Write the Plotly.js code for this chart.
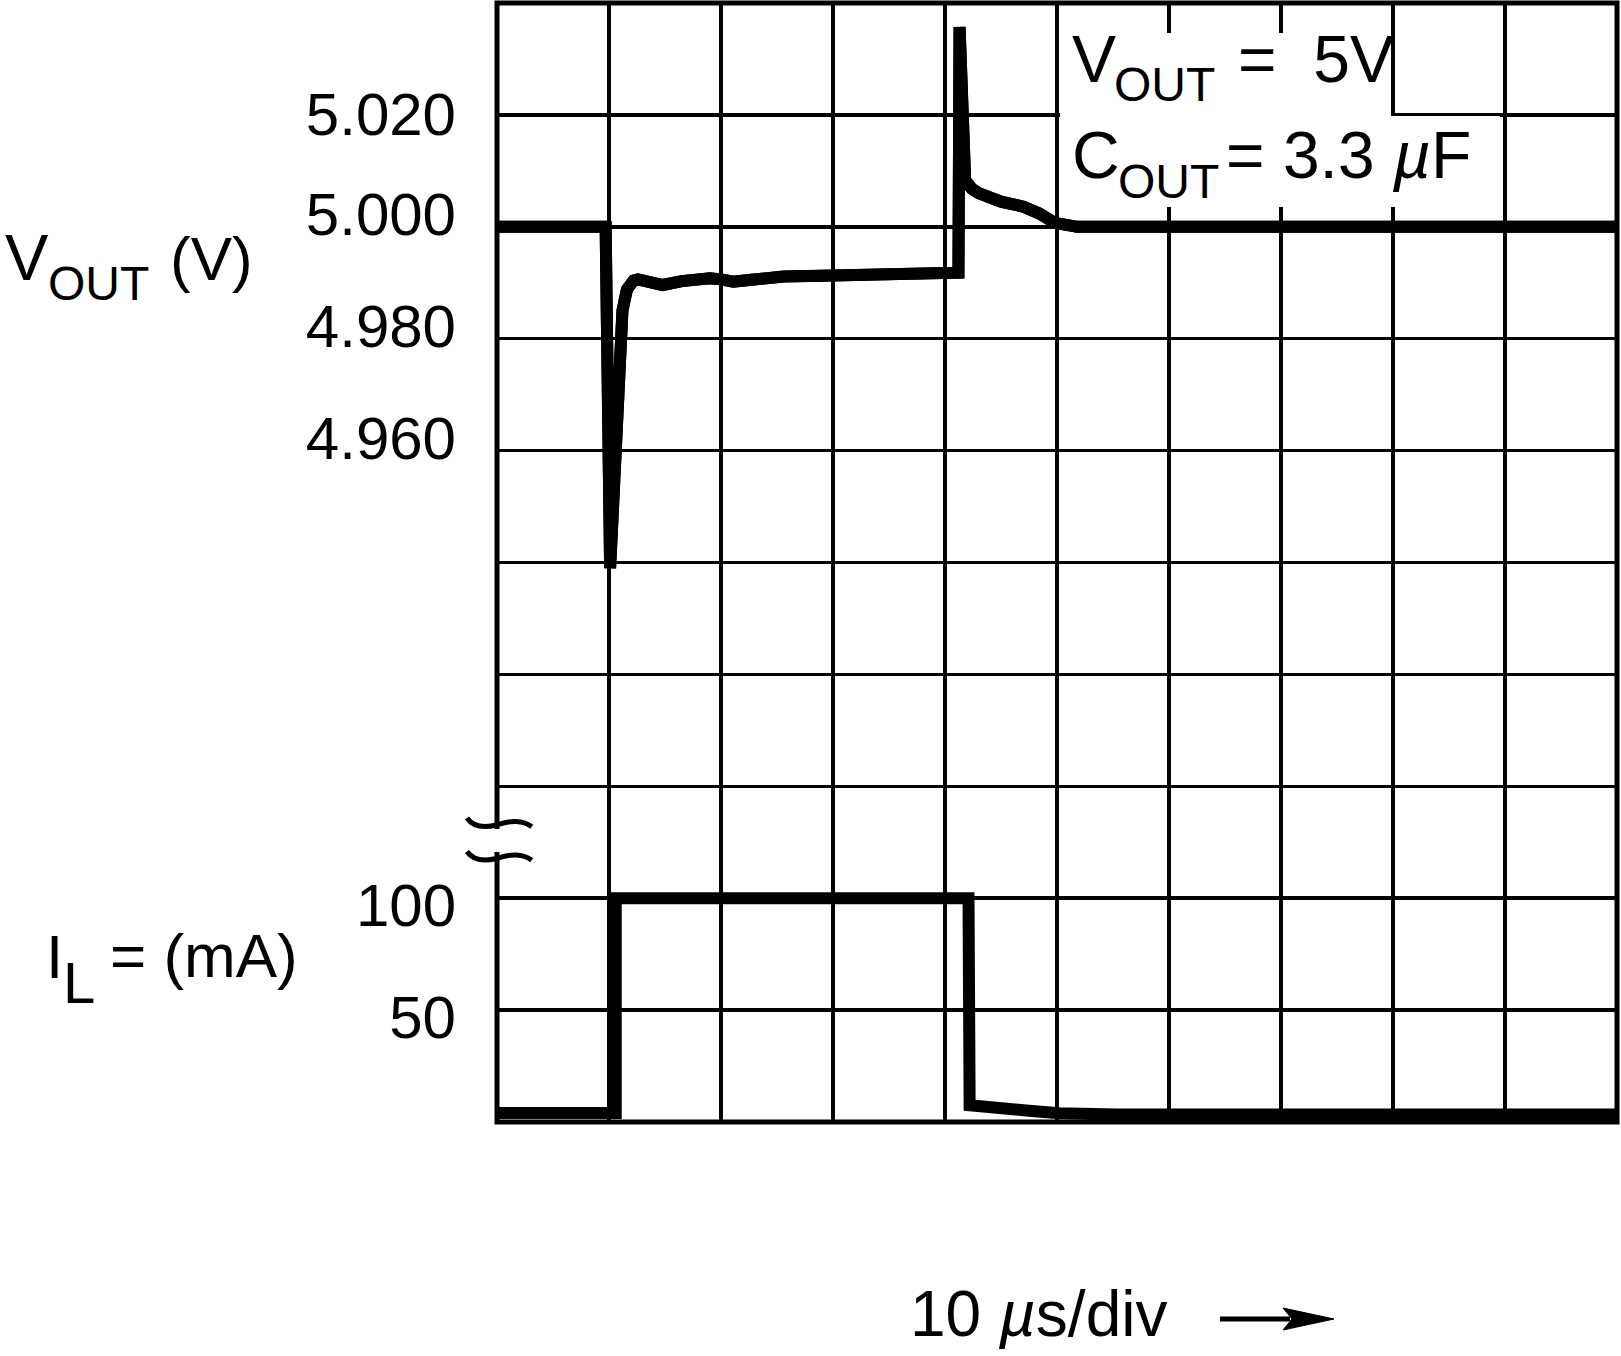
<!DOCTYPE html>
<html>
<head>
<meta charset="utf-8">
<script src="https://cdn.plot.ly/plotly-3.0.1.min.js"></script>
<style>
  html, body { margin: 0; padding: 0; background: #fff; }
  #graph { width: 1621px; height: 1356px; }
</style>
</head>
<body>
<div id="graph"></div>
<script>
// load transient: output voltage (V) and load current (mA) against time (us)
var vTime = [0, 9.7, 10.1, 10.9, 11.2, 11.6, 11.9, 12.2, 12.6, 13.1, 13.8, 14.8, 16.5, 18.0, 19.0, 20.0, 21.1, 22.5, 24.0, 25.6, 30.0, 34.5, 40.2, 41.2, 41.3, 41.8, 42.4, 43.0, 45.0, 47.0, 48.4, 49.8, 51.8, 100];
var vOut  = [5.000, 5.000, 4.939, 4.978, 4.985, 4.9888, 4.9898, 4.9904, 4.9906, 4.9904, 4.9899, 4.9896, 4.9903, 4.9908, 4.9908, 4.9906, 4.9902, 4.9905, 4.9909, 4.9911, 4.9913, 4.9915, 4.9917, 4.9918, 5.0357, 5.0083, 5.0068, 5.0060, 5.0045, 5.0036, 5.0024, 5.0007, 5.000, 5.000];

var iTime = [0, 10.6, 10.6, 42.1, 42.2, 44.2, 47.5, 50.2, 55.3, 100];
var iLoad = [4.0, 4.0, 100, 100, 7.5, 7.0, 5.0, 3.9, 3.4, 3.4];

// grid: 10 us/div, 20 mV/div, 50 mA/div
var timeGrid = [0, 10, 20, 30, 40, 50, 60, 70, 80, 90, 100];
var voltGrid = [4.84, 4.86, 4.88, 4.90, 4.92, 4.94, 4.96, 4.98, 5.00, 5.02, 5.04];
var voltText = ['', '', '', '', '', '', '4.960', '4.980', '5.000', '', ''];
var topTick = [5.02];
var topText = ['5.020'];
var currTicks = [50, 100];
var currText = ['50', '100'];

var FONT = 'Liberation Sans, Arial, sans-serif';

// pixel -> paper helpers (plot area 497..1617 x 3..1122)
var L = 497, R = 1617, T = 3, B = 1122;
function px(X) { return (X - L) / (R - L); }
function py(Y) { return (B - Y) / (B - T); }

function label(text, X, Y, size) {
  return {
    text: text, xref: 'paper', yref: 'paper', x: px(X), y: py(Y),
    xanchor: 'left', yanchor: 'middle', showarrow: false,
    font: {family: FONT, size: size, color: '#000'}
  };
}

function rect(x0, y0, x1, y1) {
  return {type: 'rect', xref: 'paper', yref: 'paper', layer: 'above',
    x0: px(x0), x1: px(x1), y0: py(y0), y1: py(y1),
    fillcolor: '#fff', line: {width: 0}};
}

function squiggle(dy) {
  var p = [[467, 818], [473, 826.7], [483, 828.3], [496.7, 825], [510, 820], [523.3, 820], [531.7, 826.7]];
  var s = 'M' + px(p[0][0]) + ',' + py(p[0][1] + dy);
  s += ' C' + px(p[1][0]) + ',' + py(p[1][1] + dy) + ' ' + px(p[2][0]) + ',' + py(p[2][1] + dy) + ' ' + px(p[3][0]) + ',' + py(p[3][1] + dy);
  s += ' C' + px(p[4][0]) + ',' + py(p[4][1] + dy) + ' ' + px(p[5][0]) + ',' + py(p[5][1] + dy) + ' ' + px(p[6][0]) + ',' + py(p[6][1] + dy);
  return {type: 'path', xref: 'paper', yref: 'paper', layer: 'above', path: s,
    line: {color: '#000', width: 5}};
}

var arrowHead = 'M' + px(1283) + ',' + py(1308) + ' L' + px(1334) + ',' + py(1319) +
  ' L' + px(1283) + ',' + py(1330) + ' L' + px(1292) + ',' + py(1319) + ' Z';

var tickFont = {family: FONT, size: 60, color: '#000'};
var bareAxis = {
  overlaying: 'y', side: 'left', tickmode: 'array',
  showgrid: false, showline: false, zeroline: false, ticks: '', fixedrange: true,
  tickfont: tickFont, ticklabelstandoff: 40
};
var traceLine = {color: '#000', width: 12};

Plotly.newPlot('graph', [{
  x: vTime, y: vOut, yaxis: 'y', mode: 'lines', line: traceLine, name: 'VOUT'
}, {
  x: iTime, y: iLoad, yaxis: 'y2', mode: 'lines', line: traceLine, name: 'IL'
}, {
  // same VOUT curve on the 5.020 label axis (identical scale, drawn on top)
  x: vTime, y: vOut, yaxis: 'y3', mode: 'lines', line: traceLine, name: 'VOUT '
}], {
  width: 1621, height: 1356,
  margin: {l: L, r: 1621 - R, t: T, b: 1356 - B, pad: 0},
  paper_bgcolor: '#fff', plot_bgcolor: '#fff',
  showlegend: false,
  font: {family: FONT, color: '#000'},
  xaxis: {
    range: [0, 100], tickmode: 'array', tickvals: timeGrid, showticklabels: false,
    showgrid: true, gridcolor: '#000', gridwidth: 3.5,
    showline: false, zeroline: false, ticks: '', fixedrange: true
  },
  yaxis: {
    range: [4.84, 5.04], tickmode: 'array', tickvals: voltGrid, ticktext: voltText,
    showgrid: true, gridcolor: '#000', gridwidth: 3.5,
    showline: false, zeroline: false, ticks: '', fixedrange: true,
    tickfont: tickFont, ticklabelstandoff: 40, ticklabelshift: -13
  },
  yaxis2: Object.assign({}, bareAxis, {
    range: [0, 500], tickvals: currTicks, ticktext: currText, ticklabelshift: 7
  }),
  yaxis3: Object.assign({}, bareAxis, {
    range: [4.84, 5.04], tickvals: topTick, ticktext: topText, ticklabelshift: -1
  }),
  shapes: [
    {type: 'rect', xref: 'paper', yref: 'paper', layer: 'above', x0: 0, x1: 1, y0: 0, y1: 1,
      line: {color: '#000', width: 5}},
    rect(1060, 33, 1391, 117),
    rect(1060, 116, 1500, 207),
    rect(489, 829, 506, 852),
    squiggle(0),
    squiggle(33.5),
    {type: 'line', xref: 'paper', yref: 'paper', layer: 'above',
      x0: px(1220), x1: px(1290), y0: py(1319), y1: py(1319), line: {color: '#000', width: 5}},
    {type: 'path', xref: 'paper', yref: 'paper', layer: 'above', path: arrowHead,
      fillcolor: '#000', line: {color: '#000', width: 1}}
  ],
  annotations: [
    label('V', 3, 257.5, 65),
    label('OUT', 46, 283, 48),
    label('(V)', 168, 258.5, 62),
    label('I', 44, 956.5, 62),
    label('L', 61, 982, 58),
    label('=\u00a0(mA)', 108, 955.5, 62),
    label('V', 1070, 58.5, 66),
    label('OUT', 1112, 85, 48),
    label('=\u00a0\u00a05V', 1236, 58.5, 66),
    label('C', 1070, 155, 66),
    label('OUT', 1116, 181, 48),
    label('=\u00a03.3\u00a0<i>\u00b5</i>F', 1224, 155, 66),
    label('10\u00a0<i>\u00b5</i>s/div', 908, 1314, 64)
  ]
}, {displayModeBar: false, staticPlot: true});
</script>
</body>
</html>
